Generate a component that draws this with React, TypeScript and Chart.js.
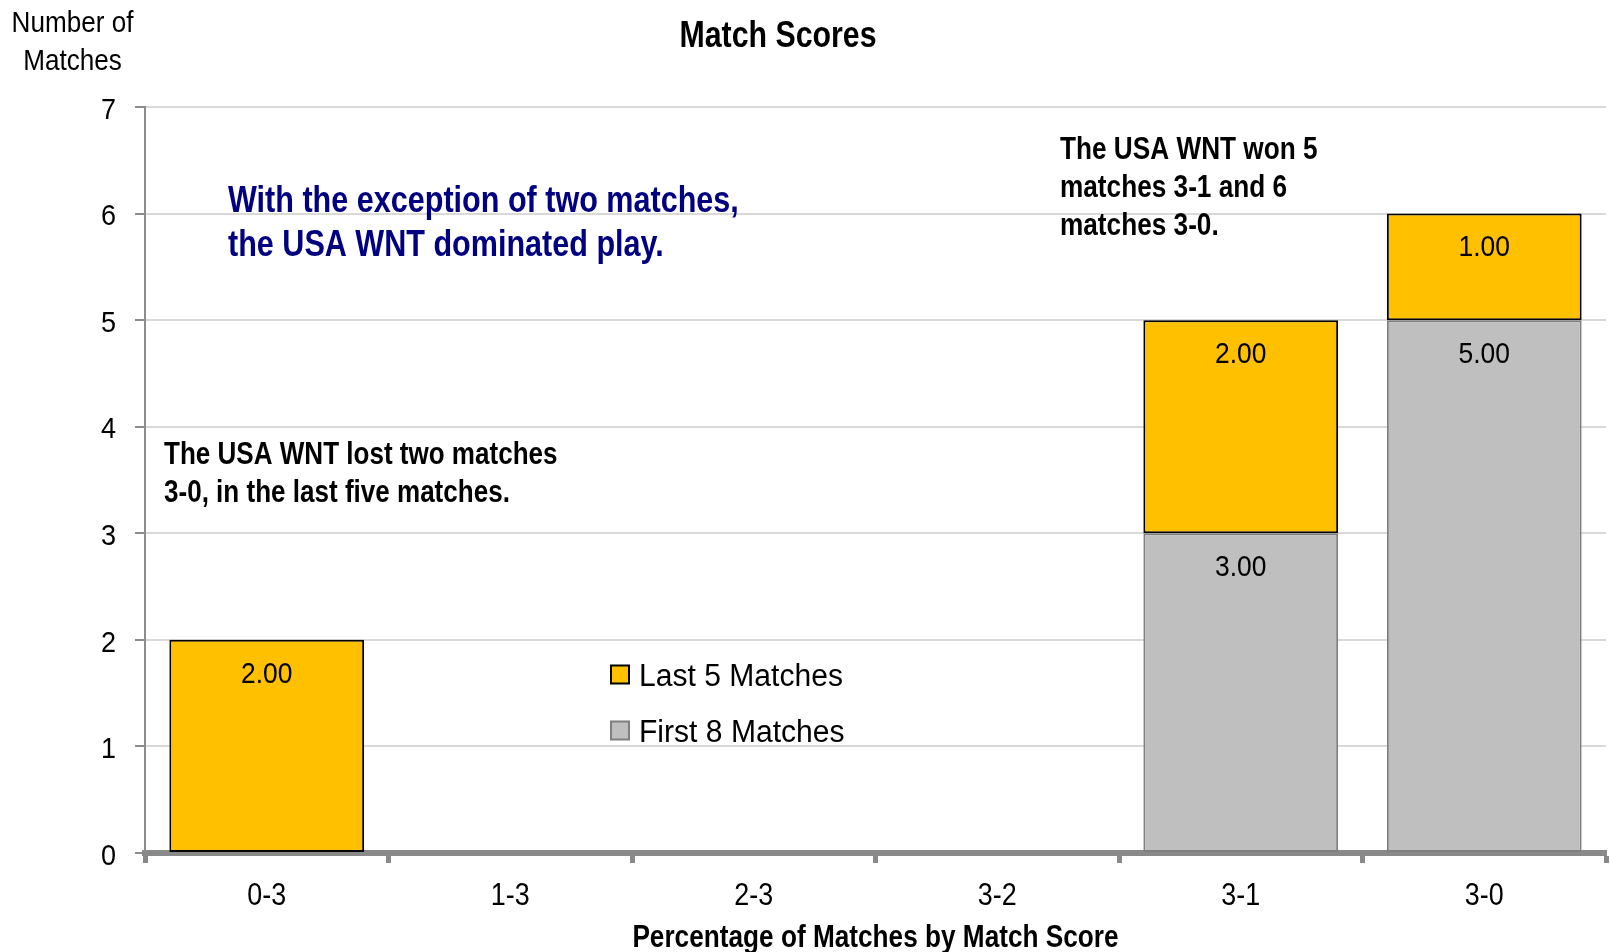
import React, { useEffect, useRef } from "react";
import { Chart, registerables } from "chart.js";

Chart.register(...registerables);

const categories = ["0-3", "1-3", "2-3", "3-2", "3-1", "3-0"];
const firstEight = [0, 0, 0, 0, 3, 5];
const lastFive = [2, 0, 0, 0, 2, 1];
const yTicks = [0, 1, 2, 3, 4, 5, 6, 7];
const seriesNames = ["First 8 Matches", "Last 5 Matches"];

const chartTitle = "Match Scores";
const yTitle = ["Number of", "Matches"];
const xTitle = "Percentage of Matches by Match Score";
const noteBlue = ["With the exception of two matches,", "the USA WNT dominated play."];
const noteLost = ["The USA WNT lost two matches", "3-0, in the last five matches."];
const noteWon = ["The USA WNT won 5", "matches 3-1 and 6", "matches 3-0."];

const FAMILY = '"Liberation Sans", Arial, "Noto Sans", sans-serif';
const YELLOW = "#FFC000";
const GRAY = "#BFBFBF";

// draws text with its alphabetic baseline at y, squeezed horizontally by sx
function txt(
  ctx: CanvasRenderingContext2D,
  s: string,
  x: number,
  y: number,
  size: number,
  bold: boolean,
  color: string,
  sx: number,
  align: CanvasTextAlign
) {
  ctx.save();
  ctx.font = `${bold ? "bold " : ""}${size}px ${FAMILY}`;
  ctx.fillStyle = color;
  ctx.textBaseline = "alphabetic";
  ctx.textAlign = align;
  ctx.translate(x, y);
  ctx.scale(sx, 1);
  ctx.fillText(s, 0, 0);
  ctx.restore();
}

const textPlugin = {
  id: "textPlugin",
  afterDraw(chart: any) {
    const ctx: CanvasRenderingContext2D = chart.ctx;
    const ca = chart.chartArea;
    const xs = chart.scales.x;
    const ys = chart.scales.y;

    // y tick labels
    ys.ticks.forEach((t: any) => {
      const py = ys.getPixelForValue(t.value);
      txt(ctx, String(t.value), ca.left - 29, py + 11.7, 30, false, "#000", 0.9, "right");
    });
    // x tick labels
    categories.forEach((c, i) => {
      const px = xs.getPixelForValue(i);
      txt(ctx, c, px, ca.bottom + 51.5, 32, false, "#000", 0.84, "center");
    });

    // data labels
    chart.data.datasets.forEach((ds: any, di: number) => {
      const meta = chart.getDatasetMeta(di);
      meta.data.forEach((bar: any, i: number) => {
        const v = ds.data[i];
        if (!v) return;
        txt(ctx, v.toFixed(2), bar.x, bar.y + 42.7, 30, false, "#000", 0.88, "center");
      });
    });

    // title
    txt(ctx, chartTitle, 778, 46.5, 36, true, "#000", 0.842, "center");
    // y title
    txt(ctx, yTitle[0], 72.5, 31.5, 29, false, "#000", 0.9, "center");
    txt(ctx, yTitle[1], 72.5, 70, 29, false, "#000", 0.9, "center");
    // x title
    txt(ctx, xTitle, (ca.left + ca.right) / 2, 947, 31, true, "#000", 0.845, "center");

    // annotations
    noteBlue.forEach((l, i) => txt(ctx, l, 228, 211.5 + i * 44.5, 37, true, "#000080", 0.826, "left"));
    noteLost.forEach((l, i) => txt(ctx, l, 164, 463.5 + i * 38, 31, true, "#000", 0.84, "left"));
    noteWon.forEach((l, i) => txt(ctx, l, 1060, 158.5 + i * 38.3, 31, true, "#000", 0.845, "left"));

    // legend (reversed order: top series first)
    const dsets = chart.data.datasets.slice().reverse();
    dsets.forEach((ds: any, i: number) => {
      const base = 686 + i * 56;
      ctx.save();
      ctx.fillStyle = ds.backgroundColor;
      ctx.strokeStyle = ds.borderColor;
      ctx.lineWidth = 2;
      ctx.fillRect(611, base - 20.5, 18, 18);
      ctx.strokeRect(611, base - 20.5, 18, 18);
      ctx.restore();
      txt(ctx, ds.label, 639, base, 31, false, "#000", 0.97, "left");
    });
  },
};

export default function App() {
  const ref = useRef<HTMLCanvasElement | null>(null);
  useEffect(() => {
    document.body.style.margin = "0";
    if (!ref.current) return;
    const chart = new Chart(ref.current, {
      type: "bar",
      data: {
        labels: categories,
        datasets: [
          {
            label: seriesNames[0],
            data: firstEight,
            backgroundColor: GRAY,
            borderColor: "#7F7F7F",
            borderWidth: 2,
            borderSkipped: false,
          },
          {
            label: seriesNames[1],
            data: lastFive,
            backgroundColor: YELLOW,
            borderColor: "#000000",
            borderWidth: 2,
            borderSkipped: false,
          },
        ],
      },
      options: {
        responsive: false,
        animation: false,
        devicePixelRatio: 1,
        layout: { padding: { top: 107, right: 4, left: 0, bottom: 0 } },
        plugins: {
          legend: { display: false },
          title: { display: false },
          tooltip: { enabled: false },
        },
        datasets: { bar: { categoryPercentage: 1, barPercentage: 0.8 } },
        scales: {
          x: {
            stacked: true,
            z: 1,
            offset: true,
            ticks: { display: false },
            grid: {
              offset: true,
              drawOnChartArea: false,
              drawTicks: true,
              tickLength: 10,
              tickWidth: 5,
              tickColor: "#898989",
            },
            border: { display: true, color: "#898989", width: 6 },
            afterFit: (s: any) => {
              s.height = 99;
            },
          },
          y: {
            stacked: true,
            min: 0,
            max: yTicks[yTicks.length - 1],
            ticks: { display: false, stepSize: 1 },
            afterBuildTicks: (s: any) => {
              s.ticks = yTicks.map((v) => ({ value: v }));
            },
            grid: {
              color: "#D9D9D9",
              lineWidth: 2,
              drawTicks: true,
              tickLength: 10,
              tickColor: "#8C8C8C",
              tickWidth: 2,
            },
            border: { display: true, color: "#8C8C8C", width: 2 },
            afterFit: (s: any) => {
              s.width = 145;
            },
          },
        },
      },
      plugins: [textPlugin],
    } as any);
    return () => chart.destroy();
  }, []);
  return <canvas ref={ref} width={1610} height={952} style={{ display: "block", width: 1610, height: 952 }} />;
}
